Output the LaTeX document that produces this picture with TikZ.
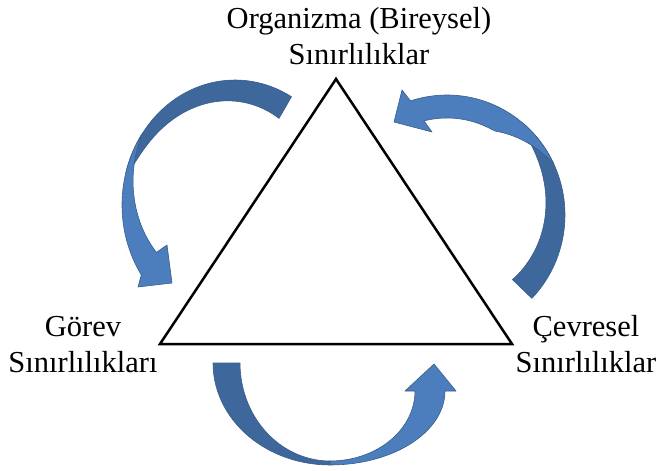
\documentclass[tikz,border=0pt]{standalone}
\usepackage{fontspec}
\setmainfont{Liberation Serif}
\definecolor{arrback}{RGB}{62,104,155}
\definecolor{arrfront}{RGB}{76,126,189}
\definecolor{arrline}{RGB}{56,93,138}
\begin{document}
\begin{tikzpicture}[x=1pt,y=-1pt,
  lbl/.style={align=center,inner sep=0pt,font=\fontsize{30.5}{36}\selectfont},
  backface/.style={fill=arrback,draw=arrline,line width=0.6pt,line join=round},
  frontface/.style={fill=arrfront,draw=arrline,line width=0.6pt,line join=round},
  tri/.style={draw=black,line width=2.5pt,line join=miter}]
\useasboundingbox (0,0) rectangle (659,471);
% triangle
\coordinate (A) at (336,79);
\coordinate (B) at (160,344);
\coordinate (C) at (512,344);
\draw[tri] (A) -- (B) -- (C) -- cycle;
% labels
\node[lbl] (top) at (359,36) {Organizma (Bireysel)\\Sınırlılıklar};
\node[lbl] (left) at (83,345) {Görev\\Sınırlılıkları};
\node[lbl] (right) at (586,344) {Çevresel\\Sınırlılıklar};
% bottom arrow
\path[backface] plot[domain=180:270,samples=30] ({330+117*cos(\x)},{363-102*sin(\x)})
  -- plot[domain=270:180,samples=30] ({330+90*cos(\x)},{363-98*sin(\x)}) -- cycle;
\path[frontface] plot[domain=270:360,samples=30] ({330+115*cos(\x)},{391-74*sin(\x)})
  -- (456,391) -- (434,364) -- (405,391) -- (415,391)
  -- plot[domain=360:270,samples=30] ({330+85*cos(\x)},{391-70*sin(\x)}) -- cycle;
% left arrow
\path[backface] plot[domain=300:195,samples=40] ({235+113*cos(\x)},{205+125*sin(\x)})
  -- plot[domain=195:300,samples=40]
     ({235+(113-25*sqrt(max(0,(\x-195)/105)))*cos(\x)},{205+(125-25*sqrt(max(0,(\x-195)/105)))*sin(\x)})
  -- cycle;
\path[frontface] plot[domain=215:146,samples=40] ({235+113*cos(\x)},{205+125*sin(\x)})
  -- (138,287) -- (172,283) -- (167,245)
  -- plot[domain=152:215,samples=40]
     ({235+(113-24*(215-\x)/63)*cos(\x)},{205+(125-24*(215-\x)/63)*sin(\x)})
  -- cycle;
% right arrow
\path[backface] plot[domain=44:-50,samples=40] ({447+118*cos(\x)},{215+120*sin(\x)})
  -- plot[domain=-50:44,samples=40]
     ({447+(118-27*sqrt(max(0,(\x+50)/94)))*cos(\x)},{215+(120-27*sqrt(max(0,(\x+50)/94)))*sin(\x)})
  -- cycle;
\path[frontface] plot[domain=-25:-108,samples=40] ({447+118*cos(\x)},{215+120*sin(\x)})
  -- (402,90) -- (394,122) -- (432,132)
  -- plot[domain=-104:-25,samples=40]
     ({447+(118-23*min(1,(-25-\x)/35))*cos(\x)},{215+(120-23*min(1,(-25-\x)/35))*sin(\x)})
  -- cycle;
\end{tikzpicture}
\end{document}
